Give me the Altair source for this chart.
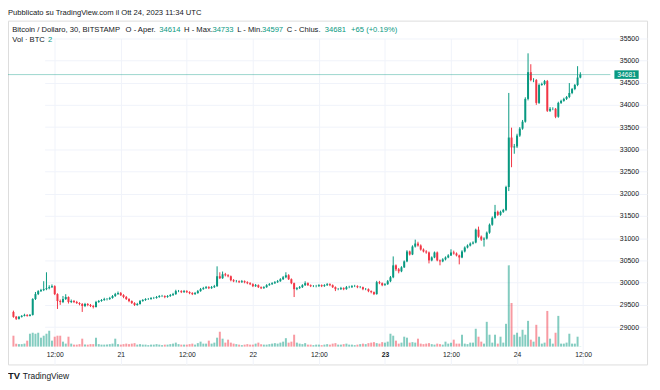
import altair as alt
import pandas as pd
import numpy as np

# ---------------- data ----------------
TITLE = "Pubblicato su TradingView.com il Ott 24, 2023 11:34 UTC"
LEGEND_TEXT = ["Bitcoin / Dollaro, 30, BITSTAMP", "O - Aper.", "34614", "H - Max.", "34733",
               "L - Min.", "34597", "C - Chius.", "34681", "+65 (+0.19%)"]
LEGEND_IS_VALUE = [False, False, True, False, True, False, True, False, True, True]
VOL_TEXT = ["Vol · BTC", "2"]
VOL_IS_VALUE = [False, True]
BRAND = "TradingView"
LOGO = "TV"

START_UTC = "2023-10-20T04:30:00Z"   # first 30-min candle
FIRST_OPEN = 29341

CLOSE = [
    29230, 29185, 29230, 29252, 29274, 29252, 29274, 29631, 29742, 29809,
    29832, 29854, 29876, 29898, 29921, 29742, 29586, 29564, 29631, 29676,
    29564, 29586, 29564, 29542, 29520, 29475, 29520, 29497, 29475, 29453,
    29564, 29586, 29609, 29631, 29631, 29653, 29698, 29742, 29765, 29720,
    29676, 29631, 29586, 29542, 29497, 29520, 29586, 29609, 29631, 29631,
    29653, 29653, 29676, 29698, 29698, 29676, 29698, 29720, 29742, 29809,
    29809, 29787, 29809, 29787, 29765, 29742, 29765, 29809, 29854, 29876,
    29898, 29876, 29898, 29921, 30144, 30099, 30188, 30166, 30144, 30055,
    30032, 30032, 30010, 30032, 30010, 29988, 29965, 29921, 29943, 29898,
    29876, 29898, 29943, 29965, 29988, 30010, 30032, 30077, 30121, 30166,
    30077, 29988, 29854, 29876, 29898, 29943, 29988, 29943, 29921, 29921,
    29921, 29943, 29921, 29943, 29965, 29943, 29898, 29854, 29854, 29876,
    29854, 29898, 29898, 29921, 29921, 29898, 29898, 29854, 29854, 29809,
    29787, 29742, 30010, 29988, 29943, 29965, 30032, 30121, 30389, 30300,
    30255, 30344, 30478, 30701, 30634, 30812, 30879, 30835, 30745, 30701,
    30679, 30500, 30567, 30679, 30500, 30478, 30523, 30567, 30612, 30679,
    30656, 30612, 30567, 30701, 30790, 30835, 30879, 30902, 31191, 31035,
    30968, 30991, 31125, 31303, 31459, 31593, 31526, 31593, 31637, 32151,
    33264, 33042, 33064, 33309, 33465, 33621, 34134, 34735, 34557, 34557,
    34044, 34446, 34468, 34535, 33866, 33911, 33911, 33732, 34044, 34089,
    34134, 34178, 34267, 34356, 34446, 34614, 34681,
]
HIGH = [
    29370, 29250, 29250, 29270, 29300, 29290, 29295, 29650, 29790, 29830,
    29860, 30032, 30233, 29940, 29960, 29940, 29760, 29620, 29700, 29740,
    29690, 29620, 29610, 29590, 29560, 29540, 29545, 29540, 29520, 29500,
    29590, 29610, 29630, 29660, 29655, 29680, 29720, 29770, 29800, 29790,
    29740, 29700, 29650, 29600, 29560, 29545, 29610, 29630, 29650, 29655,
    29675, 29680, 29700, 29720, 29725, 29715, 29720, 29745, 29770, 29840,
    29835, 29830, 29835, 29830, 29805, 29785, 29790, 29835, 29880, 29905,
    29925, 29920, 29925, 29950, 30367, 30233, 30250, 30220, 30190, 30160,
    30080, 30060, 30050, 30060, 30050, 30030, 30010, 29985, 29970, 29960,
    29915, 29920, 29965, 29990, 30010, 30035, 30060, 30100, 30150, 30233,
    30190, 30095, 30000, 29900, 29925, 29965, 30030, 30005, 29960, 29945,
    29950, 29965, 29960, 29965, 29990, 29985, 29960, 29915, 29880, 29905,
    29895, 29925, 29930, 29945, 29950, 29940, 29925, 29910, 29880, 29870,
    29825, 29800, 30040, 30040, 30005, 29990, 30060, 30150, 30590, 30410,
    30330, 30370, 30500, 30730, 30720, 30840, 30968, 30920, 30860, 30770,
    30730, 30700, 30590, 30700, 30700, 30520, 30550, 30590, 30640, 30750,
    30720, 30680, 30630, 30730, 30815, 30860, 30905, 30930, 31215, 31260,
    31060, 31020, 31150, 31330, 31490, 31749, 31620, 31620, 31660, 32180,
    34268, 33487, 33120, 33350, 33500, 33660, 34170, 35159, 34914, 34600,
    34580, 34480, 34500, 34560, 34560, 33950, 33945, 33930, 34070, 34115,
    34160, 34200, 34490, 34380, 34470, 34870, 34733,
]
LOW = [
    29210, 29160, 29170, 29215, 29240, 29235, 29240, 29260, 29610, 29720,
    29790, 29810, 29830, 29850, 29880, 29720, 29408, 29500, 29540, 29610,
    29530, 29540, 29540, 29520, 29490, 29341, 29450, 29470, 29450, 29420,
    29440, 29545, 29570, 29590, 29600, 29610, 29640, 29680, 29725, 29700,
    29650, 29610, 29560, 29520, 29475, 29480, 29505, 29570, 29590, 29610,
    29615, 29630, 29640, 29660, 29675, 29650, 29660, 29680, 29700, 29725,
    29785, 29765, 29770, 29765, 29740, 29720, 29725, 29750, 29795, 29840,
    29860, 29855, 29860, 29880, 29905, 30080, 30085, 30140, 30120, 30030,
    30010, 30005, 29990, 29995, 29985, 29965, 29945, 29900, 29905, 29880,
    29855, 29860, 29885, 29930, 29950, 29970, 29995, 30020, 30060, 30100,
    30060, 29965, 29676, 29830, 29860, 29880, 29925, 29925, 29900, 29900,
    29895, 29905, 29900, 29905, 29925, 29920, 29880, 29810, 29830, 29835,
    29830, 29840, 29875, 29880, 29900, 29875, 29875, 29830, 29830, 29785,
    29760, 29720, 29730, 29965, 29920, 29930, 29950, 30010, 30100, 30260,
    30210, 30235, 30330, 30460, 30610, 30620, 30790, 30810, 30720, 30680,
    30650, 30433, 30480, 30550, 30480, 30390, 30460, 30500, 30550, 30600,
    30630, 30590, 30411, 30550, 30680, 30770, 30815, 30860, 30885, 31010,
    30940, 30812, 30970, 31100, 31280, 31440, 31500, 31505, 31570, 31610,
    32060, 32597, 32900, 33030, 33280, 33440, 33600, 34100, 34530, 34510,
    34000, 34020, 34430, 34440, 33840, 33840, 33880, 33700, 33710, 34020,
    34070, 34110, 34150, 34240, 34330, 34420, 34597,
]
VOLUME = [
    110, 30, 25, 25, 30, 60, 130, 140, 130, 140,
    90, 110, 130, 160, 60, 100, 110, 110, 50, 30,
    100, 30, 20, 20, 25, 80, 20, 20, 25, 25,
    90, 25, 20, 20, 20, 25, 30, 80, 25, 20,
    25, 30, 25, 30, 35, 20, 25, 20, 20, 15,
    20, 20, 25, 20, 15, 20, 20, 25, 30, 40,
    25, 20, 20, 20, 25, 30, 20, 35, 50, 30,
    30, 60, 30, 40, 90, 150, 80, 40, 70, 40,
    30, 25, 20, 15, 20, 25, 20, 20, 30, 40,
    25, 20, 20, 25, 30, 35, 30, 40, 50, 85,
    40, 50, 120, 40, 30, 25, 35, 20, 20, 15,
    20, 20, 15, 20, 25, 20, 30, 35, 20, 20,
    25, 30, 20, 20, 15, 20, 25, 30, 25, 35,
    40, 45, 35, 30, 45, 40, 50, 130, 110, 60,
    30, 40, 100, 90, 40, 45, 40, 80, 30, 25,
    30, 35, 25, 20, 30, 25, 20, 50, 30, 40,
    70, 30, 30, 120, 30, 25, 40, 40, 180, 100,
    50, 30, 250, 120, 40, 120, 30, 100, 40, 230,
    820, 440, 120, 140, 100, 170, 120, 260, 70, 50,
    220, 100, 30, 40, 360, 80, 30, 140, 310, 30,
    30, 40, 130, 30, 30, 100, 2,
]
PRICE_TICKS = [29000, 29500, 30000, 30500, 31000, 31500, 32000, 32500,
               33000, 33500, 34000, 34500, 35000, 35500]
TIME_TICKS = ["2023-10-20T12:00:00Z", "2023-10-21T00:00:00Z", "2023-10-21T12:00:00Z",
              "2023-10-22T00:00:00Z", "2023-10-22T12:00:00Z", "2023-10-23T00:00:00Z",
              "2023-10-23T12:00:00Z", "2023-10-24T00:00:00Z", "2023-10-24T12:00:00Z"]

# ---------------- styling / layout ----------------
GREEN = "#089981"
RED = "#f23645"
TXT = "#131722"
GRID = "#f0f3fa"
FRAME = "#e0e3eb"
FONT = "Liberation Sans"

VIEW_W, VIEW_H = 645, 347       # whole framed panel
PANE_H = 329                    # price/volume pane height
PLOT_W = 608                    # price pane width (price scale to the right)
CANDLE_PX = 2.824               # px per 30 minutes
FIRST_X = 0.5
HALF_HOUR = 1800000

def ms(s):
    return int(pd.Timestamp(s).value // 10**6)

t0 = ms(START_UTC)
n = len(CLOSE)
opens = [FIRST_OPEN] + CLOSE[:-1]
df = pd.DataFrame({
    "t": [t0 + i * HALF_HOUR for i in range(n)],
    "open": opens, "close": CLOSE, "high": HIGH, "low": LOW, "vol": VOLUME,
})
df["dir"] = np.where(df["close"] >= df["open"], "up", "down")

d0 = t0 - FIRST_X / CANDLE_PX * HALF_HOUR
d1 = t0 + (PLOT_W - FIRST_X) / CANDLE_PX * HALF_HOUR

COLOR = alt.Color("dir:N", scale=alt.Scale(domain=["up", "down"], range=[GREEN, RED]), legend=None)

x_axis = alt.Axis(
    values=[ms(v) for v in TIME_TICKS],
    labelExpr="utchours(datum.value) == 0 ? utcFormat(datum.value, '%-d') : utcFormat(datum.value, '%H:%M')",
    labelFontWeight={"condition": {"test": "utcdate(datum.value) == 23 && utchours(datum.value) == 0",
                                   "value": "bold"}, "value": "normal"},
    grid=True, gridColor=GRID, domain=False, ticks=False, labelPadding=5,
    offset=-(VIEW_H - PANE_H), title=None, labelFontSize=6.8, labelColor=TXT,
    labelFont=FONT, labelOverlap=False, labelFlush=False,
)
X = alt.X("t:T", scale=alt.Scale(type="utc", domain=[d0, d1], range=[0, PLOT_W]), axis=x_axis)

price_scale = alt.Scale(domain=[29000, 35500], range=[309.3, 17.7], zero=False, nice=False)
y_axis = alt.Axis(
    orient="right", offset=-(VIEW_W - PLOT_W), values=PRICE_TICKS, format="d", grid=True,
    gridColor=GRID, domain=False, ticks=False, labelPadding=9, labelAlign="left", title=None,
    labelFontSize=7, labelColor=TXT, labelFont=FONT, labelOverlap=False,
)
vol_scale = alt.Scale(domain=[0, 3290], range=[PANE_H, 0])

wicks = alt.Chart(df).mark_rule(strokeWidth=1).encode(
    x=X, y=alt.Y("low:Q", scale=price_scale, axis=y_axis), y2="high:Q", color=COLOR)
bodies = alt.Chart(df).mark_bar(size=2).encode(
    x=X, y=alt.Y("open:Q", scale=price_scale, axis=y_axis), y2="close:Q", color=COLOR)
volume = alt.Chart(df).mark_bar(size=2, opacity=0.5).encode(
    x=X, y=alt.Y("vol:Q", scale=vol_scale, axis=None, stack=None), color=COLOR)

last = pd.DataFrame({"price": [CLOSE[-1]], "label": [str(CLOSE[-1])]})
price_line = alt.Chart(last).mark_rule(color=GREEN, opacity=0.4, strokeWidth=1).encode(
    y=alt.Y("price:Q", scale=price_scale, axis=y_axis), x=alt.value(0), x2=alt.value(PLOT_W))
BOX = "M-1,-0.35L1,-0.35L1,0.35L-1,0.35Z"
box = alt.Chart(last).mark_point(shape=BOX, size=600, filled=True, opacity=1, color=GREEN,
                                 strokeWidth=0).encode(
    y=alt.Y("price:Q", scale=price_scale, axis=y_axis), x=alt.value(624.3))
box_txt = alt.Chart(last).mark_text(color="white", fontSize=6.8, font=FONT, align="center",
                                    baseline="middle").encode(
    y=alt.Y("price:Q", scale=price_scale, axis=y_axis), x=alt.value(624.3), text="label:N")

price = alt.layer(wicks, bodies, price_line, box, box_txt)

def txt(s, x, y, color=TXT, size=7.7, weight="normal"):
    return alt.Chart(pd.DataFrame({"s": [s]})).mark_text(
        align="left", baseline="middle", font=FONT, fontSize=size, color=color,
        fontWeight=weight).encode(x=alt.value(x), y=alt.value(y), text="s:N")

LEGEND_X = [12.3, 126.7, 160.7, 185.7, 214.3, 239.3, 264.3, 289.3, 327.7, 354.3]
VOL_X = [12.3, 48.3]
texts = [txt(TITLE, 0, -7.5)]
for s, isv, px in zip(LEGEND_TEXT, LEGEND_IS_VALUE, LEGEND_X):
    texts.append(txt(s, px - 8, 9.3, GREEN if isv else TXT))
for s, isv, px in zip(VOL_TEXT, VOL_IS_VALUE, VOL_X):
    texts.append(txt(s, px - 8, 19.3, GREEN if isv else TXT))
texts.append(txt(LOGO, 0, 359, TXT, 9.5, "bold"))
texts.append(txt(BRAND, 15, 359, TXT, 8.5))

chart = alt.layer(volume, price, *texts).resolve_scale(y="independent").properties(
    width=VIEW_W, height=VIEW_H,
    autosize=alt.AutoSizeParams(type="none"),
    padding={"left": 0, "top": 11, "right": 5, "bottom": 20},
).configure_view(stroke=FRAME, strokeWidth=1).configure(background="white")

chart.save("out.html", embed_options={"renderer": "svg", "actions": False})
